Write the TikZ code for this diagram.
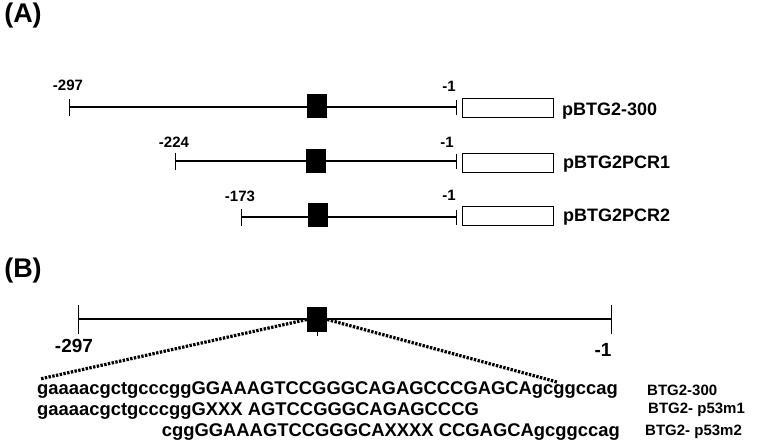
\documentclass[tikz,border=0pt]{standalone}
\usepackage{fontspec}
\setmainfont{Liberation Sans}
\usetikzlibrary{arrows.meta}
\begin{document}
\begin{tikzpicture}
    [
    x=1pt,y=-1pt,
    site/.style={rectangle,fill=black,inner sep=0pt,minimum width=20pt,minimum height=24pt},
    reporter/.style={rectangle,draw,thin,inner sep=0pt,minimum width=91pt,minimum height=19pt},
    promoter/.style={line width=1.4pt,{Bar[width=17pt,line width=1pt]}-{Bar[width=15pt,line width=1pt]}},
    posnum/.style={font=\fontsize{15}{17}\selectfont\bfseries,inner sep=0pt},
    construct/.style={font=\fontsize{18}{20}\selectfont\bfseries,anchor=west,inner sep=0pt},
    seq/.style={font=\fontsize{18.4}{20}\selectfont\bfseries,inner sep=0pt},
    panel/.style={font=\fontsize{27}{29}\selectfont\bfseries,inner sep=0pt}
    ]
    \useasboundingbox (0,0) rectangle (779,447);
    % panel (A)
    \node (labelA) at (23,16) [panel] {(A)};
    \coordinate (s1) at (69,107);
    \coordinate (e1) at (457,107);
    \coordinate (s2) at (175,161);
    \coordinate (e2) at (457,161);
    \coordinate (s3) at (241,217);
    \coordinate (e3) at (457,217);
    \draw [promoter] (s1) to (e1);
    \draw [promoter] (s2) to (e2);
    \draw [promoter] (s3) to (e3);
    \node (site1) at (317,106) [site] {};
    \node (site2) at (316,161) [site] {};
    \node (site3) at (318,215) [site] {};
    \node (luc1) at (507.5,107.5) [reporter] {};
    \node (luc2) at (507.5,162.5) [reporter] {};
    \node (luc3) at (507.5,215.5) [reporter] {};
    \node (n297) at (68,85) [posnum] {-297};
    \node (n224) at (174,142) [posnum] {-224};
    \node (n173) at (240,196) [posnum] {-173};
    \node (m1a) at (449,86) [posnum] {-1};
    \node (m1b) at (447,142) [posnum] {-1};
    \node (m1c) at (449,195) [posnum] {-1};
    \node (c1) at (562,111) [construct] {pBTG2-300};
    \node (c2) at (563,164) [construct] {pBTG2PCR1};
    \node (c3) at (563,217) [construct] {pBTG2PCR2};
    % panel (B)
    \node (labelB) at (23,271) [panel] {(B)};
    \coordinate (sB) at (78,319);
    \coordinate (eB) at (612,319);
    \draw [line width=1.4pt,{Bar[width=29pt,line width=0.8pt]}-{Bar[width=29pt,line width=0.8pt]}] (sB) to (eB);
    \node (siteB) at (317,319.5) [site,minimum height=25pt] {};
    \draw [line width=0.8pt] (siteB.south) to ++(0,4);
    \node (b297) at (74,346) [posnum,font=\fontsize{19}{21}\selectfont\bfseries] {-297};
    \node (b1) at (603,350) [posnum,font=\fontsize{19}{21}\selectfont\bfseries] {-1};
    \coordinate (zl) at (40,379);
    \coordinate (zr) at (557,382);
    \draw [line width=3.2pt,dash pattern=on 2.4pt off 1.4pt] (siteB.west) to (zl);
    \draw [line width=3.2pt,dash pattern=on 2.4pt off 1.4pt] (siteB.east) to (zr);
    \node (wt) at (37,390) [seq,anchor=west] {gaaaacgctgcccggGGAAAGTCCGGGCAGAGCCCGAGCAgcggccag};
    \node (mut1) at (37,411) [seq,anchor=west] {gaaaacgctgcccggGXXX AGTCCGGGCAGAGCCCG};
    \node (mut2) at (620,432) [seq,anchor=east] {cggGGAAAGTCCGGGCAXXXX CCGAGCAgcggccag};
    \node (t1) at (647,390) [construct,font=\fontsize{15}{17}\selectfont\bfseries] {BTG2-300};
    \node (t2) at (648,410) [construct,font=\fontsize{15}{17}\selectfont\bfseries] {BTG2- p53m1};
    \node (t3) at (645,432) [construct,font=\fontsize{15}{17}\selectfont\bfseries] {BTG2- p53m2};
  \end{tikzpicture}
\end{document}
